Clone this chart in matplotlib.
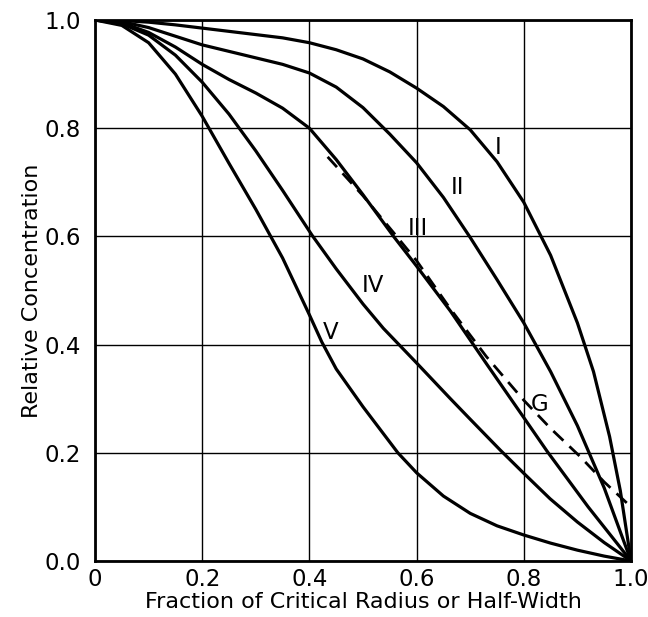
import matplotlib.pyplot as plt

# curves (fraction of radius, relative concentration)
x_I = [0, 0.05, 0.1, 0.15, 0.2, 0.25, 0.3, 0.35, 0.4, 0.45, 0.5, 0.55, 0.6, 0.65, 0.7, 0.75, 0.8, 0.85, 0.9, 0.93, 0.96, 0.98, 1.0]
y_I = [1.0, 0.999, 0.996, 0.991, 0.985, 0.979, 0.973, 0.967, 0.958, 0.945, 0.928, 0.904, 0.874, 0.84, 0.797, 0.738, 0.663, 0.565, 0.44, 0.35, 0.23, 0.13, 0.0]

x_II = [0, 0.05, 0.1, 0.15, 0.2, 0.25, 0.3, 0.35, 0.4, 0.45, 0.5, 0.55, 0.6, 0.65, 0.7, 0.75, 0.8, 0.85, 0.9, 0.95, 1.0]
y_II = [1.0, 0.997, 0.986, 0.97, 0.954, 0.942, 0.93, 0.918, 0.902, 0.876, 0.838, 0.789, 0.736, 0.672, 0.598, 0.52, 0.44, 0.35, 0.25, 0.135, 0.0]

x_III = [0, 0.05, 0.1, 0.15, 0.2, 0.25, 0.3, 0.35, 0.4, 0.45, 0.5, 0.557, 0.6, 0.663, 0.73, 0.8, 0.844, 0.92, 1.0]
y_III = [1.0, 0.995, 0.977, 0.95, 0.918, 0.89, 0.865, 0.837, 0.8, 0.742, 0.677, 0.6, 0.545, 0.462, 0.365, 0.265, 0.202, 0.1, 0.0]

x_IV = [0, 0.05, 0.1, 0.15, 0.2, 0.25, 0.3, 0.35, 0.405, 0.45, 0.5, 0.538, 0.6, 0.663, 0.7, 0.756, 0.8, 0.849, 0.9, 0.95, 1.0]
y_IV = [1.0, 0.993, 0.972, 0.935, 0.885, 0.826, 0.758, 0.685, 0.602, 0.54, 0.475, 0.43, 0.366, 0.3, 0.262, 0.205, 0.162, 0.115, 0.072, 0.034, 0.0]

x_V = [0, 0.05, 0.1, 0.15, 0.2, 0.25, 0.3, 0.35, 0.4, 0.423, 0.45, 0.5, 0.565, 0.6, 0.65, 0.7, 0.75, 0.8, 0.85, 0.9, 0.95, 1.0]
y_V = [1.0, 0.99, 0.958, 0.9, 0.822, 0.735, 0.65, 0.56, 0.455, 0.405, 0.355, 0.285, 0.2, 0.163, 0.12, 0.088, 0.065, 0.048, 0.033, 0.02, 0.009, 0.0]

x_G = [0.434, 0.5, 0.557, 0.6, 0.663, 0.73, 0.8, 0.85, 0.905, 0.95, 1.0]
y_G = [0.747, 0.675, 0.607, 0.555, 0.466, 0.378, 0.297, 0.245, 0.193, 0.146, 0.10]

labels = ["I", "II", "III", "IV", "V", "G"]
label_x = [0.752, 0.676, 0.603, 0.518, 0.44, 0.829]
label_y = [0.764, 0.69, 0.615, 0.51, 0.423, 0.29]

fig = plt.figure(figsize=(6.48, 6.17), dpi=100)
ax = fig.add_axes([0.1466, 0.0908, 0.8272, 0.8768])

for xs, ys in [(x_I, y_I), (x_II, y_II), (x_III, y_III), (x_IV, y_IV), (x_V, y_V)]:
    ax.plot(xs, ys, color="black", lw=2.3, solid_joinstyle="round", solid_capstyle="round")

ax.plot(x_G, y_G, color="black", lw=2.0, linestyle=(0, (5, 3)))

for t, lx, ly in zip(labels, label_x, label_y):
    ax.text(lx, ly, t, fontsize=16.5, ha="center", va="center")

ax.set_xlim(0, 1.0)
ax.set_ylim(0, 1.0)
ax.set_xticks([0, 0.2, 0.4, 0.6, 0.8, 1.0])
ax.set_xticklabels(["0", "0.2", "0.4", "0.6", "0.8", "1.0"])
ax.set_yticks([0, 0.2, 0.4, 0.6, 0.8, 1.0])
ax.set_yticklabels(["0.0", "0.2", "0.4", "0.6", "0.8", "1.0"])
ax.tick_params(length=0, labelsize=16.5)
ax.tick_params(axis="x", pad=5)
ax.tick_params(axis="y", pad=10)
ax.grid(True, color="black", lw=1.0)
for s in ax.spines.values():
    s.set_linewidth(2.0)

ax.set_xlabel("Fraction of Critical Radius or Half-Width", fontsize=16, labelpad=1)
ax.set_ylabel("Relative Concentration", fontsize=16)
ax.yaxis.set_label_coords(-0.099, 0.5)

plt.savefig("out.png", dpi=100)
